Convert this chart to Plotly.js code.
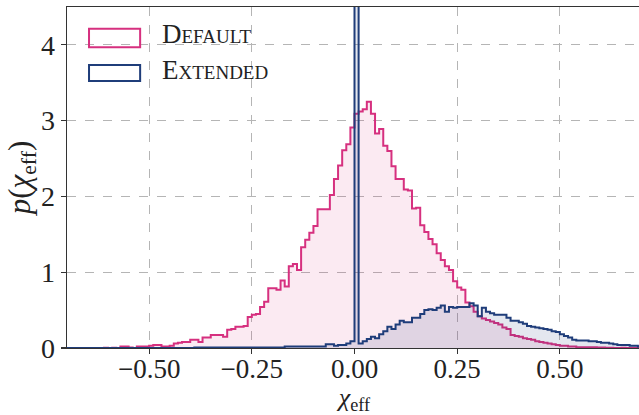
<!DOCTYPE html>
<html>
<head>
<meta charset="utf-8">
<script src="https://cdn.plot.ly/plotly-3.0.1.min.js"></script>
<style>
html,body{margin:0;padding:0;overflow:hidden;background:#fff;}
#chart{width:642px;height:415px;}
</style>
</head>
<body>
<div id="chart"></div>
<script>
// Histogram bins: first left edge and bin width (chi_eff)
const binStart = -0.70;
const binWidth = 0.01;

// Density per bin, "Default" run (bins from -0.70 to 0.69 left edge)
const defaultDensity = [
  0,0,0,0,0,0,0,0,0,
  0.003,0,0.003,0,
  0.02,0.02,0.005,0,
  0.02,0.02,0.02,0.03,
  0.04,0.04,0.02,0.02,
  0.03,0.06,0.07,0.08,
  0.08,0.11,0.11,0.08,
  0.14,0.14,0.17,0.17,
  0.17,0.15,0.24,0.25,
  0.28,0.28,0.29,0.41,
  0.44,0.45,0.54,0.61,
  0.79,0.79,0.77,0.89,
  0.81,1.08,1.11,1.03,
  1.33,1.43,1.52,1.61,
  1.83,1.83,1.83,2.02,
  2.23,2.41,2.61,2.69,
  2.91,3.09,3.12,3.15,
  3.25,3.09,2.83,2.89,
  2.67,2.60,2.40,2.23,
  2.23,2.09,2.08,1.84,
  1.85,1.62,1.53,1.44,
  1.37,1.25,1.16,1.08,
  1.03,0.88,0.80,0.77,
  0.60,0.55,0.48,0.42,
  0.39,0.37,0.35,0.33,
  0.31,0.27,0.25,0.17,
  0.16,0.15,0.13,0.12,
  0.11,0.09,0.08,0.07,
  0.06,0.05,0.04,0.03,
  0.03,0.02,0.02,0.01,
  0.01,0.01,0.01,0.01,
  0.005,0.005,0.003,0.003,
  0,0,0.003,0,
  0,0,0
];

// Density per bin, "Extended" run
const extendedDensity = [
  0,0,0,0,0,0,0,0,0,0,0,0,0,0,0,0,0,0,0,0,0,0,0,0,0,0,0,0,0,0,0,
  0.008,0.008,0.008,0.008,0.008,0.008,0.008,0.008,0.008,0.008,0.008,
  0.008,0.008,0.008,0.008,0.008,0.008,0.008,0.008,0.008,0.008,0.008,
  0.02,0.02,0.02,0.02,0.02,0.02,0.02,0.02,0.02,0.02,
  0.05,0.05,0.03,0.04,0.04,0.06,0.09,
  6.0,
  0.06,0.09,0.12,0.15,0.13,0.18,0.22,0.28,0.25,0.31,0.36,0.34,0.34,0.40,0.40,0.45,
  0.50,0.51,0.50,0.53,0.56,0.48,0.54,0.53,0.54,0.54,0.54,0.59,0.56,0.42,0.53,0.48,0.46,0.44,0.44,0.44,0.40,
  0.36,0.36,0.34,0.32,0.29,0.28,0.27,0.26,0.25,0.24,0.22,0.21,0.18,0.16,0.14,0.11,
  0.10,0.10,0.10,0.09,0.09,0.08,0.07,0.07,0.06,0.05,0.04,0.04,0.04,0.03,0.03,0.02
];

const seriesNames = ["Default", "Extended"];
const xTickVals = [-0.50, -0.25, 0.00, 0.25, 0.50];
const xTickText = ["\u22120.50", "\u22120.25", "0.00", "0.25", "0.50"];
const yTickVals = [0, 1, 2, 3, 4];
const yTickText = ["0", "1", "2", "3", "4"];

const pink = "#d6307f";
const navy = "#1f3d7a";
const FONT = "Liberation Serif, DejaVu Serif, serif";

function stepTrace(vals, color, fill, name) {
  // repeat the last value so the final bin closes at its right edge
  const y = vals.concat([vals[vals.length - 1]]);
  return {
    type: "scatter", mode: "lines", name: name,
    x0: binStart, dx: binWidth, y: y,
    line: {shape: "hv", color: color, width: 2},
    fill: "tozeroy", fillcolor: fill,
    showlegend: false, hoverinfo: "skip"
  };
}

const traces = [
  stepTrace(defaultDensity, pink, "rgba(214,48,127,0.10)", seriesNames[0]),
  stepTrace(extendedDensity, navy, "rgba(31,61,122,0.12)", seriesNames[1])
];

const axisCommon = {
  showline: true, linecolor: "#333", linewidth: 1.3, mirror: true,
  ticks: "outside", ticklen: 5, tickwidth: 1.2, tickcolor: "#333",
  showgrid: true, gridcolor: "#b5b5b5", gridwidth: 1, griddash: "dash",
  zeroline: false,
  tickfont: {family: FONT, size: 28, color: "#222"}
};

const layout = {
  width: 642, height: 415,
  margin: {l: 67, r: 0, t: 7, b: 67},
  paper_bgcolor: "#fff", plot_bgcolor: "#fff",
  showlegend: false,
  xaxis: Object.assign({}, axisCommon, {
    range: [-0.70, 0.70], tickvals: xTickVals, ticktext: xTickText,
    tickfont: {family: FONT, size: 27, color: "#222"},
    ticklabelstandoff: -9,
    title: {text: "<i>χ</i><sub>eff</sub>", font: {family: FONT, size: 26, color: "#222"}, standoff: 12}
  }),
  yaxis: Object.assign({}, axisCommon, {
    range: [0, 4.5], tickvals: yTickVals, ticktext: yTickText,
    title: {text: "<i>p</i>(<i>χ</i><sub>eff</sub>)", font: {family: FONT, size: 31, color: "#222"}, standoff: 0}
  }),
  shapes: [
    {type: "rect", xref: "paper", yref: "paper", x0: 0.0383, x1: 0.1272, y0: 0.8823, y1: 0.9362,
     line: {color: pink, width: 2}, fillcolor: "rgba(214,48,127,0.0)"},
    {type: "rect", xref: "paper", yref: "paper", x0: 0.0383, x1: 0.1272, y0: 0.7829, y1: 0.8296,
     line: {color: navy, width: 2}, fillcolor: "rgba(31,61,122,0.0)"}
  ],
  annotations: [
    {xref: "paper", yref: "paper", x: 0.162, y: 0.92, xanchor: "left", yanchor: "middle",
     text: seriesNames[0], showarrow: false,
     font: {family: FONT, size: 27, color: "#222", variant: "small-caps"}},
    {xref: "paper", yref: "paper", x: 0.162, y: 0.814, xanchor: "left", yanchor: "middle",
     text: seriesNames[1], showarrow: false,
     font: {family: FONT, size: 27, color: "#222", variant: "small-caps"}}
  ]
};

Plotly.newPlot("chart", traces, layout, {staticPlot: true, displayModeBar: false});
</script>
</body>
</html>
